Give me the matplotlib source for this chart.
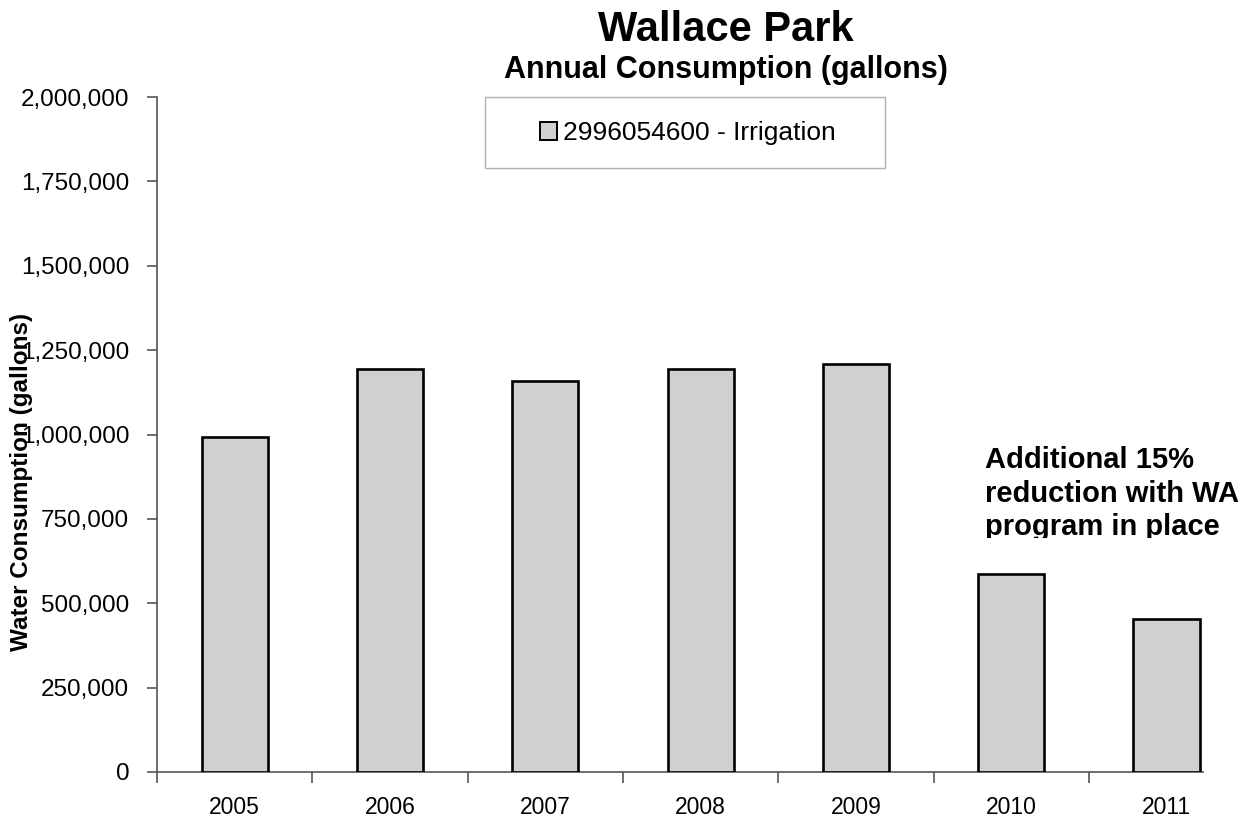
import matplotlib
matplotlib.use("Agg")
import matplotlib.pyplot as plt
from matplotlib.ticker import FuncFormatter, FixedLocator
from matplotlib.patches import Rectangle
from matplotlib.transforms import Bbox, TransformedBbox

years = ["2005", "2006", "2007", "2008", "2009", "2010", "2011"]
consumption = [993500, 1195000, 1157600, 1195000, 1208000, 586700, 453000]
series_name = "2996054600 - Irrigation"
title = "Wallace Park"
subtitle = "Annual Consumption (gallons)"
ylabel = "Water Consumption (gallons)"
note = "Additional 15%\nreduction with WA\nprogram in place"

plt.rcParams['font.family'] = ['Liberation Sans', 'DejaVu Sans']

W, H = 1249, 825
fig = plt.figure(figsize=(W/100, H/100), dpi=100)
ax = fig.add_axes([157/W, 1-772/H, (1203-157)/W, (772-97)/H])

x = list(range(len(years)))
ax.bar(x, consumption, width=0.425, color="#d0d0d0", edgecolor="black",
       linewidth=1.9, label=series_name, zorder=3)

ax.set_ylim(0, 2000000)
ax.set_xlim(-0.5, 6.235)
ax.yaxis.set_major_locator(FixedLocator([i*250000 for i in range(9)]))
ax.yaxis.set_major_formatter(FuncFormatter(lambda v, p: f"{int(v):,}"))
ax.set_xticks(x)
ax.set_xticklabels(years)
ax.xaxis.set_minor_locator(FixedLocator([i - 0.5 for i in range(len(years))]))

for s in ["top", "right"]:
    ax.spines[s].set_visible(False)
for s in ["left", "bottom"]:
    ax.spines[s].set_color("#555555")
    ax.spines[s].set_linewidth(1.2)

ax.tick_params(axis="y", direction="out", length=7, width=1.2, color="#555555",
               labelsize=17.5, pad=13)
ax.tick_params(axis="x", which="major", length=0, labelsize=16.5, pad=17)
ax.tick_params(axis="x", which="minor", direction="out", length=8, width=1.2,
               color="#555555")

fig.text(22/W, 1-482/H, ylabel, rotation=90, ha="center", va="center",
         fontsize=17.5, fontweight="bold")

fig.text(726/W, 1-30/H, title, ha="center", va="center", fontsize=30, fontweight="bold")
fig.text(726/W, 1-70/H, subtitle, ha="center", va="center", fontsize=22, fontweight="bold")

# legend frame and entry
ax.add_patch(Rectangle((485/W, 1-168/H), 400/W, 71/H, transform=fig.transFigure,
                       facecolor="white", edgecolor="#b0b0b0", linewidth=1.0,
                       zorder=5, clip_on=False))
leg = ax.legend(loc="center", bbox_to_anchor=(688/W, 1-133/H), bbox_transform=fig.transFigure,
                fontsize=19, frameon=False, handlelength=0.65, handleheight=0.65,
                handletextpad=0.25, borderpad=0)
leg.set_zorder(6)
for h in leg.legend_handles:
    h.set_linewidth(1.4)

t = fig.text(985/W, 1-446/H, note, ha="left", va="top", fontsize=21,
             fontweight="bold", linespacing=1.25)
t.set_clip_on(True)
t.set_clip_box(TransformedBbox(Bbox([[0.7, 1-538/H], [1.0, 1-430/H]]), fig.transFigure))

fig.savefig("out.png", dpi=100, facecolor="white")
